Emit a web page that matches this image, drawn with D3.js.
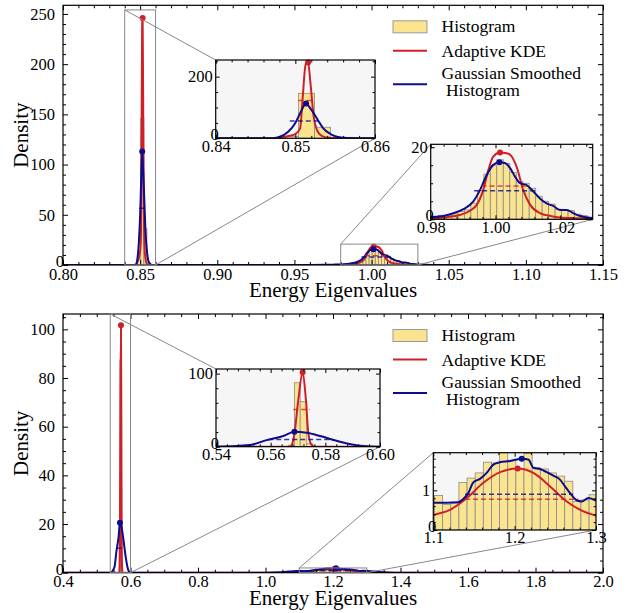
<!DOCTYPE html>
<meta charset="utf-8">
<head>
<script src="https://cdn.jsdelivr.net/npm/d3@7"></script>
<style>
  body { margin: 0; background: #fff; }
  svg text { font-family: "Liberation Serif", "Times New Roman", Times, serif !important; }
</style>
</head>
<body>
<svg id="chart" width="628" height="613"></svg>
<script>
"use strict";

// ---------- top spectrum ----------
// histogram, contiguous groups of bin edges + heights
const topEdgesA = [0.8484, 0.8504, 0.8524, 0.8544, 0.8564];
const topHistA = [6, 146, 36, 3];
const topEdgesB = [0.9764, 0.9784, 0.9804, 0.9824, 0.9844, 0.9864, 0.9884, 0.9904, 0.9924, 0.9944,
  0.9964, 0.9984, 1.0004, 1.0024, 1.0044, 1.0064, 1.0084, 1.0104, 1.0124, 1.0144,
  1.0164, 1.0184, 1.0204, 1.0224, 1.0244, 1.0264, 1.0284, 1.0304, 1.0324];
const topHistB = [0.3, 0.4, 0.7, 1.1, 0.9, 1.5, 2.2, 2.6, 4.5, 8.0,
  12.5, 15.0, 16.5, 15.5, 13.0, 10.5, 10.0, 8.6, 6.4, 5.0,
  4.2, 2.8, 2.6, 2.4, 1.4, 1.0, 0.6, 0.3];
// adaptive KDE
const topKdeX = [0.80, 0.846, 0.8474, 0.8485, 0.8493, 0.850, 0.8506, 0.8509, 0.8513, 0.8516, 0.8519, 0.8523,
  0.8527, 0.8533, 0.8544, 0.856, 0.86, 0.96, 0.97, 0.98, 0.985, 0.989, 0.9925, 0.9942, 0.9962, 0.9978,
  0.9993, 1.0014, 1.003, 1.0045, 1.0065, 1.0086, 1.0107, 1.0137, 1.017, 1.0199, 1.025, 1.03, 1.04, 1.05, 1.15];
const topKdeY = [0, 0, 0.5, 4, 8, 14, 32, 124, 240, 246, 178, 70,
  27, 8, 1, 0.2, 0, 0, 0.05, 0.3, 0.6, 1.2, 2.6, 4, 8.1, 13.7,
  17.4, 18.5, 18.4, 17.9, 14.6, 8, 4, 1.7, 0.9, 0.5, 0.3, 0.2, 0.05, 0, 0];
// gaussian smoothed histogram
const topSmX = [0.80, 0.845, 0.8472, 0.8480, 0.8491, 0.8500, 0.8506, 0.85134, 0.8519, 0.85246, 0.8530, 0.85351,
  0.8544, 0.8552, 0.8564, 0.858, 0.95, 0.96, 0.97, 0.975, 0.98, 0.9839, 0.9870, 0.9901, 0.9931, 0.9952,
  0.9973, 0.9993, 1.0012, 1.0029, 1.0045, 1.0060, 1.0076, 1.0096, 1.0117, 1.0137, 1.0158, 1.0178, 1.0199,
  1.0220, 1.0240, 1.0261, 1.03, 1.035, 1.04, 1.05, 1.15];
const topSmY = [0, 0, 0.3, 4, 21, 50, 81, 113, 96, 75, 52, 32,
  14, 5, 1, 0, 0, 0.05, 0.2, 0.35, 0.56, 0.93, 1.67, 2.8, 4.9, 8.1,
  12.3, 15.1, 15.8, 15.6, 14.2, 11.9, 10, 9.5, 7.7, 5.8, 4.4, 3.7, 2.6,
  2.6, 1.7, 0.9, 0.3, 0.15, 0.05, 0, 0];
// half-maximum widths [from, to, level]
const topKdeHalf = [[0.8504, 0.8524, 123], [0.9957, 1.0101, 9.25]];
const topSmHalf = [[0.8493, 0.8533, 56.5], [0.9934, 1.0132, 7.9]];

// ---------- bottom spectrum ----------
const botEdgesA = [0.5665, 0.5687, 0.5708, 0.5732, 0.5754];
const botHistA = [2, 87.5, 61.6, 4];
const botEdgesB = [1.0615, 1.0715, 1.0815, 1.0915, 1.1015, 1.1115, 1.1215, 1.1315, 1.1415, 1.1515,
  1.1615, 1.1715, 1.1815, 1.1915, 1.2015, 1.2115, 1.2215, 1.2315, 1.2415, 1.2515,
  1.2615, 1.2715, 1.2815, 1.2915, 1.3015, 1.3115, 1.3215];
const botHistB = [0.2, 0.4, 0.6, 0.85, 0.87, 0.64, 0.68, 1.2, 1.31, 1.44,
  1.71, 1.69, 1.95, 1.76, 1.54, 1.93, 1.57, 1.54, 1.44, 1.36,
  1.23, 0.72, 0.76, 0.89, 0.6, 0.4];
const botKdeX = [0.40, 0.5671, 0.5677, 0.5687, 0.5701, 0.5717, 0.5729, 0.5738, 0.5750, 0.5762, 0.60,
  1.00, 1.05, 1.08, 1.10, 1.1205, 1.141, 1.1615, 1.182, 1.2037, 1.223, 1.2435, 1.264, 1.2845, 1.30,
  1.32, 1.35, 1.40, 1.45, 2.0];
const botKdeY = [0, 0, 2.3, 18, 63.6, 101.7, 63.6, 18, 2.3, 0, 0,
  0, 0.06, 0.2, 0.37, 0.51, 0.8, 1.19, 1.46, 1.55, 1.44, 1.1, 0.72, 0.47, 0.36,
  0.22, 0.1, 0.02, 0, 0];
const botSmX = [0.40, 0.53, 0.54, 0.5524, 0.5585, 0.5646, 0.5687, 0.5732, 0.5781, 0.5854, 0.5927, 0.60, 0.61,
  1.00, 1.05, 1.07, 1.09, 1.10, 1.1164, 1.1307, 1.1369, 1.1430, 1.1492, 1.1574, 1.1656, 1.1738, 1.1820,
  1.1943, 1.2025, 1.2087, 1.2169, 1.2230, 1.2312, 1.2394, 1.2476, 1.2557, 1.2619, 1.2681, 1.2763, 1.2824,
  1.2906, 1.30, 1.31, 1.33, 1.36, 1.40, 2.0];
const botSmY = [0, 0, 0, 2.3, 9, 14.6, 20.5, 19, 14.6, 6.8, 1.4, 0, 0,
  0, 0.2, 0.45, 0.65, 0.69, 0.69, 0.70, 0.78, 0.93, 1.2, 1.29, 1.44, 1.65, 1.71,
  1.74, 1.78, 1.80, 1.78, 1.57, 1.54, 1.46, 1.37, 1.27, 1.10, 0.93, 0.75, 0.72,
  0.81, 0.74, 0.6, 0.35, 0.1, 0.02, 0];
const botKdeHalf = [[0.5683, 0.5744, 50.8], [1.139, 1.278, 0.775]];
const botSmHalf = [[0.5591, 0.5829, 10], [1.139, 1.272, 0.90]];

const legendLabels = ["Histogram", "Adaptive KDE", "Gaussian Smoothed", " Histogram"];
const xLabel = "Energy Eigenvalues", yLabel = "Density";

// ---------- drawing ----------
const svg = d3.select("#chart");
const FONT = "Liberation Serif";
const RED = "#cf2027", BLUE = "#0c0c8c";
const HIST_FILL = "#fbe48f", HIST_EDGE = "#8a8a8a";
let clipCount = 0;

function steps(lo, hi, step) {
  const n = Math.round((hi - lo) / step);
  return d3.range(n + 1).map(i => +(lo + i * step).toFixed(6));
}

function makeAxes(cfg) {
  const g = svg.append("g");
  const x = d3.scaleLinear().domain(cfg.xd).range([cfg.x0, cfg.x1]);
  const y = d3.scaleLinear().domain(cfg.yd).range([cfg.y1, cfg.y0]);
  g.append("rect").attr("x", cfg.x0).attr("y", cfg.y0)
    .attr("width", cfg.x1 - cfg.x0).attr("height", cfg.y1 - cfg.y0)
    .attr("fill", cfg.bg);
  const id = "clip" + (clipCount++);
  g.append("clipPath").attr("id", id).append("rect")
    .attr("x", cfg.x0).attr("y", cfg.y0 - 1)
    .attr("width", cfg.x1 - cfg.x0).attr("height", cfg.y1 - cfg.y0 + 1);
  const plot = g.append("g").attr("clip-path", "url(#" + id + ")");
  return { g, plot, x, y, cfg };
}

function tickSide(ax, axis, transform, values, size, fmt, pad) {
  const a = axis.tickValues(values).tickSize(-size).tickSizeOuter(0).tickPadding(pad)
    .tickFormat(fmt || (() => ""));
  const s = ax.g.append("g").attr("transform", transform).call(a);
  s.select(".domain").remove();
  s.attr("font-family", FONT).attr("font-size", ax.cfg.fs);
  s.selectAll("line").attr("stroke", "#000").attr("stroke-width", 1);
  s.selectAll("text").attr("fill", "#000");
  return s;
}

function finishAxes(ax) {
  const { x, y, cfg } = ax;
  const notMajor = (minor, major) => minor.filter(v => !major.some(m => Math.abs(m - v) < 1e-9));
  const xMin = notMajor(cfg.xMinor, cfg.xMajor), yMin = notMajor(cfg.yMinor, cfg.yMajor);
  const big = cfg.tick, small = cfg.tick * 0.6;
  tickSide(ax, d3.axisBottom(x), "translate(0," + cfg.y1 + ")", cfg.xMajor, big, cfg.xFmt, cfg.xPad);
  tickSide(ax, d3.axisBottom(x), "translate(0," + cfg.y1 + ")", xMin, small);
  tickSide(ax, d3.axisTop(x), "translate(0," + cfg.y0 + ")", cfg.xMajor, big);
  tickSide(ax, d3.axisTop(x), "translate(0," + cfg.y0 + ")", xMin, small);
  const left = tickSide(ax, d3.axisLeft(y), "translate(" + cfg.x0 + ",0)", cfg.yMajor, big, cfg.yFmt, cfg.yPad);
  left.selectAll("text").filter(d => d === 0).attr("dx", cfg.zeroDx).attr("dy", "0.1em");
  tickSide(ax, d3.axisLeft(y), "translate(" + cfg.x0 + ",0)", yMin, small);
  tickSide(ax, d3.axisRight(y), "translate(" + cfg.x1 + ",0)", cfg.yMajor, big);
  tickSide(ax, d3.axisRight(y), "translate(" + cfg.x1 + ",0)", yMin, small);
  ax.g.append("rect").attr("x", cfg.x0).attr("y", cfg.y0)
    .attr("width", cfg.x1 - cfg.x0).attr("height", cfg.y1 - cfg.y0)
    .attr("fill", "none").attr("stroke", "#000").attr("stroke-width", 1.2);
}

function plotData(ax, d) {
  const { plot, x, y } = ax;
  d.hist.forEach(([edges, heights]) => {
    plot.selectAll(null).data(heights).enter().append("rect")
      .attr("x", (h, i) => x(edges[i]))
      .attr("width", (h, i) => x(edges[i + 1]) - x(edges[i]))
      .attr("y", h => y(h))
      .attr("height", h => y(0) - y(h))
      .attr("fill", HIST_FILL).attr("stroke", HIST_EDGE).attr("stroke-width", 0.8);
  });
  const line = d3.line().x(p => x(p[0])).y(p => y(p[1])).curve(d3.curveMonotoneX);
  const series = [[d.kdeX, d.kdeY, RED, d.kdeHalf], [d.smX, d.smY, BLUE, d.smHalf]];
  series.forEach(([xs, ys, col]) => {
    plot.append("path").datum(xs.map((v, i) => [v, ys[i]]))
      .attr("d", line).attr("fill", "none").attr("stroke", col).attr("stroke-width", 2);
  });
  series.forEach(([xs, ys, col, half]) => {
    half.forEach(([lo, hi, lev]) => {
      plot.append("line").attr("x1", x(lo)).attr("x2", x(hi)).attr("y1", y(lev)).attr("y2", y(lev))
        .attr("stroke", col).attr("stroke-width", 1.5).attr("stroke-dasharray", "5,3").attr("opacity", 0.8);
      // peak marker: highest point of the curve inside the half-width
      let best = -1;
      xs.forEach((v, i) => { if (v >= lo && v <= hi && (best < 0 || ys[i] > ys[best])) best = i; });
      plot.append("circle").attr("cx", x(xs[best])).attr("cy", y(ys[best])).attr("r", 3).attr("fill", col);
    });
  });
}

function drawPanel(p) {
  const main = makeAxes(p.main);
  plotData(main, p.data);
  finishAxes(main);

  // axis titles
  svg.append("text").attr("x", (p.main.x0 + p.main.x1) / 2).attr("y", p.main.y1 + 32)
    .attr("text-anchor", "middle").attr("font-family", FONT).attr("font-size", 21).text(xLabel);
  svg.append("text")
    .attr("transform", "translate(28," + (p.main.y0 + p.main.y1) / 2 + ") rotate(-90)")
    .attr("text-anchor", "middle").attr("font-family", FONT).attr("font-size", 21).text(yLabel);

  // zoom boxes with connectors, then the insets
  p.insets.forEach(c => {
    const bx0 = main.x(c.xd[0]), bx1 = main.x(c.xd[1]);
    const by0 = main.y(c.yd[1]), by1 = main.y(c.yd[0]);
    svg.append("rect").attr("x", bx0).attr("y", by0).attr("width", bx1 - bx0).attr("height", by1 - by0)
      .attr("fill", "none").attr("stroke", "#888").attr("stroke-width", 1);
    svg.append("line").attr("x1", bx0).attr("y1", by0).attr("x2", c.x0).attr("y2", c.y0)
      .attr("stroke", "#888").attr("stroke-width", 1);
    svg.append("line").attr("x1", bx1).attr("y1", by1).attr("x2", c.x1).attr("y2", c.y1)
      .attr("stroke", "#888").attr("stroke-width", 1);
  });
  p.insets.forEach(c => {
    const ax = makeAxes(c);
    plotData(ax, p.data);
    finishAxes(ax);
  });

  // legend
  const lg = svg.append("g").attr("transform", "translate(393," + (p.main.y0 + 15.5) + ")")
    .attr("font-family", FONT).attr("font-size", 17.5);
  lg.append("rect").attr("x", 0).attr("y", 0).attr("width", 34).attr("height", 12)
    .attr("fill", HIST_FILL).attr("stroke", "#999").attr("stroke-width", 1);
  lg.append("line").attr("x1", 0).attr("x2", 34).attr("y1", 30).attr("y2", 30)
    .attr("stroke", RED).attr("stroke-width", 2);
  lg.append("line").attr("x1", 0).attr("x2", 34).attr("y1", 63.5).attr("y2", 63.5)
    .attr("stroke", BLUE).attr("stroke-width", 2);
  const textY = [11, 36, 58.5, 75.5];
  legendLabels.forEach((t, i) => {
    lg.append("text").attr("x", 48.5).attr("y", textY[i]).attr("xml:space", "preserve").text(t);
  });
}

const mainBase = { bg: "#fff", fs: 16.5, tick: 5, xPad: 3, yPad: 8, zeroDx: 9, yFmt: d3.format("d") };
const insetBase = { bg: "#f6f6f6", fs: 16.5, tick: 4, xPad: 1.5, yPad: 3, zeroDx: 6, yFmt: d3.format("d") };

drawPanel({
  main: Object.assign({}, mainBase, {
    x0: 63, x1: 603, y0: 5.3, y1: 265, xd: [0.80, 1.15], yd: [0, 258.6],
    xMajor: steps(0.80, 1.15, 0.05), xMinor: steps(0.80, 1.15, 0.01),
    yMajor: steps(0, 250, 50), yMinor: steps(0, 250, 10), xFmt: d3.format(".2f")
  }),
  insets: [
    Object.assign({}, insetBase, {
      x0: 215.7, x1: 375, y0: 60, y1: 138.3, xd: [0.84, 0.86], yd: [0, 254],
      xMajor: [0.84, 0.85, 0.86], xMinor: steps(0.84, 0.86, 0.002),
      yMajor: [0, 200], yMinor: steps(0, 250, 50), xFmt: d3.format(".2f")
    }),
    Object.assign({}, insetBase, {
      x0: 430.7, x1: 592.7, y0: 144.3, y1: 219.3, xd: [0.98, 1.03], yd: [0, 20.8],
      xMajor: [0.98, 1.00, 1.02], xMinor: steps(0.98, 1.028, 0.004),
      yMajor: [0, 20], yMinor: steps(0, 20, 5), xFmt: d3.format(".2f")
    })
  ],
  data: {
    hist: [[topEdgesA, topHistA], [topEdgesB, topHistB]],
    kdeX: topKdeX, kdeY: topKdeY, smX: topSmX, smY: topSmY,
    kdeHalf: topKdeHalf, smHalf: topSmHalf
  }
});

drawPanel({
  main: Object.assign({}, mainBase, {
    x0: 63, x1: 603, y0: 314, y1: 572.7, xd: [0.4, 2.0], yd: [0, 106.3],
    xMajor: steps(0.4, 2.0, 0.2), xMinor: steps(0.4, 2.0, 0.05),
    yMajor: steps(0, 100, 20), yMinor: steps(0, 105, 5), xFmt: d3.format(".1f")
  }),
  insets: [
    Object.assign({}, insetBase, {
      x0: 216, x1: 380, y0: 369, y1: 446.7, xd: [0.54, 0.60], yd: [0, 106.3],
      xMajor: steps(0.54, 0.60, 0.02), xMinor: steps(0.54, 0.60, 0.004),
      yMajor: [0, 100], yMinor: steps(0, 100, 20), xFmt: d3.format(".2f")
    }),
    Object.assign({}, insetBase, {
      x0: 433.3, x1: 596, y0: 452.7, y1: 530, xd: [1.1, 1.3], yd: [0, 1.95],
      xMajor: [1.1, 1.2, 1.3], xMinor: steps(1.1, 1.3, 0.02),
      yMajor: [0, 1], yMinor: steps(0, 1.8, 0.2), xFmt: d3.format(".1f")
    })
  ],
  data: {
    hist: [[botEdgesA, botHistA], [botEdgesB, botHistB]],
    kdeX: botKdeX, kdeY: botKdeY, smX: botSmX, smY: botSmY,
    kdeHalf: botKdeHalf, smHalf: botSmHalf
  }
});
</script>
</body>
